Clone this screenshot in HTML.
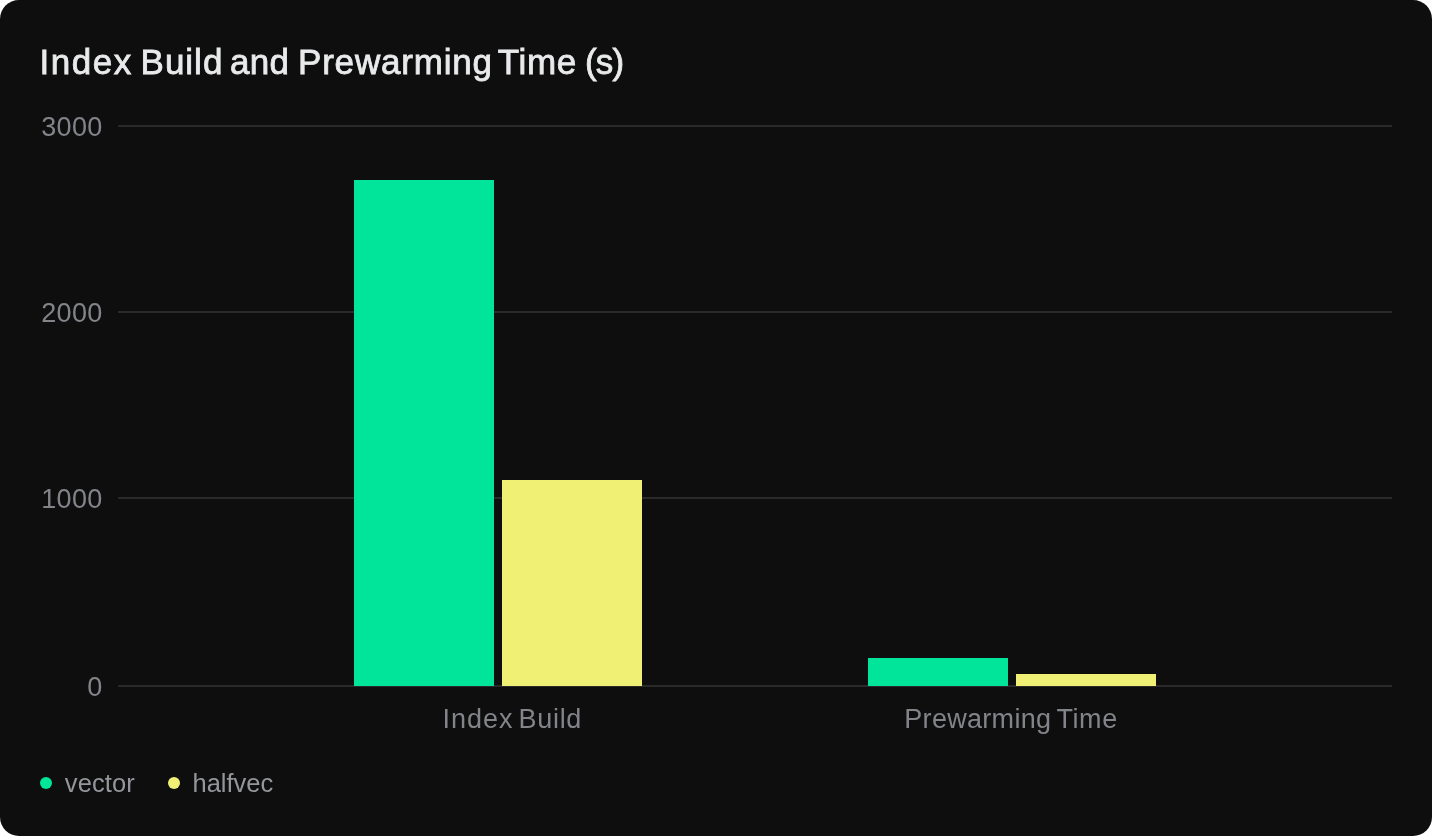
<!DOCTYPE html>
<html lang="en">
<head>
<meta charset="utf-8">
<title>Index Build and Prewarming Time (s)</title>
<style>
  html, body { margin: 0; padding: 0; background: #ffffff; }
  body { width: 1432px; height: 836px; overflow: hidden; font-family: "Liberation Sans", sans-serif; }
  .card { position: absolute; left: 0; top: 0; width: 1432px; height: 836px; background: #0e0e0e; border-radius: 19px; overflow: hidden; }
  .abs { position: absolute; white-space: nowrap; line-height: 1; }
  .title { left: 0; top: 43.5px; width: 700px; height: 40px; font-size: 35px; color: #e9eaeb; -webkit-text-stroke: 0.8px #e9eaeb; }
  .title span, .xtick span { position: absolute; top: 0; }
  .grid { position: absolute; left: 118px; width: 1274px; height: 2px; background: #2a2a2b; }
  .ytick { color: #828489; font-size: 27px; letter-spacing: 0.33px; }
  .xtick { color: #828489; font-size: 27px; }
  .bar { position: absolute; }
  .g { background: #00e599; }
  .y { background: #f0f075; }
  .dot { position: absolute; width: 12px; height: 12px; border-radius: 50%; }
  .leg { color: #94969b; font-size: 25.5px; }
</style>
</head>
<body>
<div class="card">
  <div class="abs title" id="title"><span style="left:39.5px;letter-spacing:1.55px">Index</span> <span style="left:140.6px;letter-spacing:0.98px">Build</span> <span style="left:230px;letter-spacing:0.25px">and</span> <span style="left:298px;letter-spacing:0.81px">Prewarming</span> <span style="left:497.8px;letter-spacing:0.63px">Time</span> <span style="left:584.9px;letter-spacing:-0.8px">(s)</span></div>

  <div class="grid" style="top:125px"></div>
  <div class="grid" style="top:311px"></div>
  <div class="grid" style="top:497px"></div>
  <div class="grid" style="top:685px"></div>

  <div class="abs ytick" id="y3" style="left:41.2px; top:114px;">3000</div>
  <div class="abs ytick" id="y2" style="left:41.2px; top:300px;">2000</div>
  <div class="abs ytick" id="y1" style="left:41.2px; top:486px;">1000</div>
  <div class="abs ytick" id="y0" style="left:87.2px; top:674.4px;">0</div>

  <div class="bar g" style="left:354px; top:180px; width:140px; height:506px;"></div>
  <div class="bar y" style="left:502px; top:480px; width:140px; height:206px;"></div>
  <div class="bar g" style="left:868px; top:658px; width:140px; height:28px;"></div>
  <div class="bar y" style="left:1016px; top:674px; width:140px; height:12px;"></div>

  <div class="abs xtick" id="x1" style="left:0; top:706px; width:700px; height:30px;"><span style="left:442.5px;letter-spacing:0.97px">Index</span> <span style="left:518.6px;letter-spacing:0.67px">Build</span></div>
  <div class="abs xtick" id="x2" style="left:0; top:706px; width:1300px; height:30px;"><span style="left:904.3px;letter-spacing:0.3px">Prewarming</span> <span style="left:1056.4px;letter-spacing:0.6px">Time</span></div>

  <div class="dot g" style="left:40px; top:777px;"></div>
  <div class="abs leg" id="l1" style="left:64.8px; top:771px; letter-spacing:0.12px;">vector</div>
  <div class="dot y" style="left:168px; top:777px;"></div>
  <div class="abs leg" id="l2" style="left:192.5px; top:771px;">halfvec</div>
</div>
</body>
</html>
